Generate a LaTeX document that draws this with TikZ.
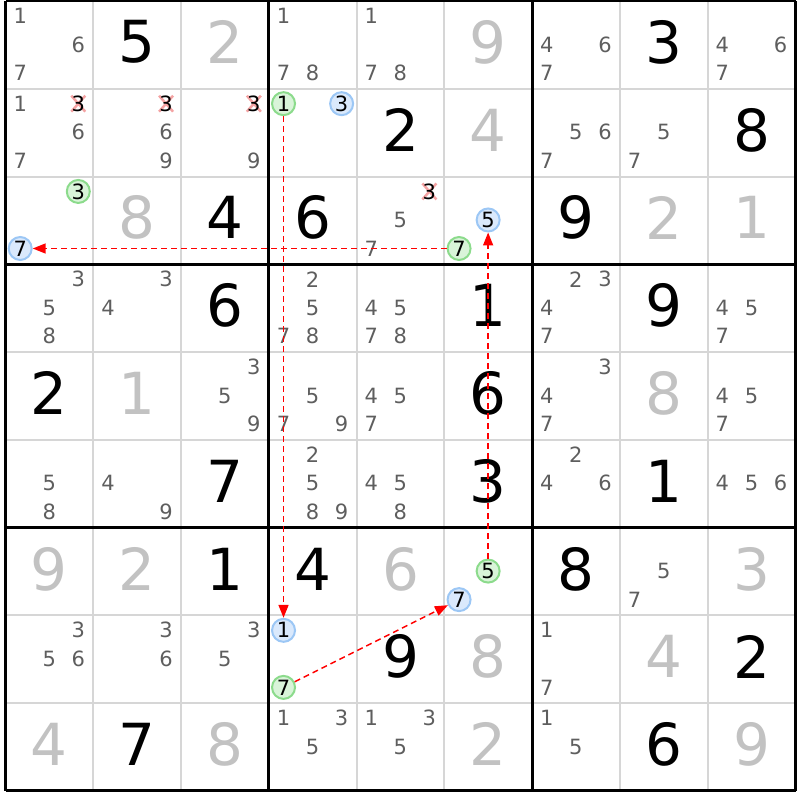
\documentclass[tikz,border=0pt]{standalone}
\usepackage{fontspec}
\setmainfont{DejaVu Sans}
\usetikzlibrary{arrows.meta}
\usepackage{xcolor}

\definecolor{givengray}{HTML}{C2C2C2}
\definecolor{candgray}{HTML}{5E5E5E}
\definecolor{gridgray}{HTML}{D6D6D6}
\definecolor{onfill}{HTML}{D9F4D9}
\definecolor{ondraw}{HTML}{8CDB8C}
\definecolor{offfill}{HTML}{DAE9FC}
\definecolor{offdraw}{HTML}{9CC7F5}
\definecolor{strikepink}{HTML}{F4A3A3}

\begin{document}
\begin{tikzpicture}[x=87.78pt, y=-87.78pt,
  thinline/.style={draw=gridgray, line width=2pt},
  boxline/.style={draw=black, line width=3pt},
  solved/.style={font=\fontsize{58}{58}\selectfont, inner sep=0pt, text=black},
  given/.style={solved, text=givengray},
  cand/.style={font=\fontsize{21}{21}\selectfont, inner sep=0pt, text=candgray},
  struck/.style={cand, text=black},
  strike/.style={draw=strikepink, line width=2.5pt},
  oncand/.style={circle, draw=ondraw, fill=onfill, line width=2pt, minimum size=23pt, inner sep=0pt, font=\fontsize{21}{21}\selectfont},
  offcand/.style={oncand, draw=offdraw, fill=offfill},
  link/.style={draw=red, line width=1.5pt, dash pattern=on 6pt off 4pt, -{Triangle[length=13pt,width=10pt]}}]

\useasboundingbox (-0.063,-0.011) rectangle (9.051,9.102);

% Grid
\foreach \i in {1,...,8} {
  \draw[thinline] (\i,0) -- (\i,9);
  \draw[thinline] (0,\i) -- (9,\i);
}
\foreach \i in {0,3,6,9} {
  \draw[boxline] (\i,0) -- (\i,9);
  \draw[boxline] (0,\i) -- (9,\i);
}

% Solved digits
\foreach \c/\r/\d in {2/1/5, 8/1/3, 5/2/2, 9/2/8, 3/3/4, 4/3/6, 7/3/9, 3/4/6, 6/4/1, 8/4/9, 1/5/2, 6/5/6,
  3/6/7, 6/6/3, 8/6/1, 3/7/1, 4/7/4, 7/7/8, 5/8/9, 9/8/2, 2/9/7, 8/9/6}
  \node[solved] (s\c\r) at (\c-0.5,\r-0.53) {\d};

% Given digits
\foreach \c/\r/\d in {3/1/2, 6/1/9, 6/2/4, 2/3/8, 8/3/2, 9/3/1, 2/5/1, 8/5/8, 1/7/9, 2/7/2, 5/7/6, 9/7/3,
  6/8/8, 8/8/4, 1/9/4, 3/9/8, 6/9/2, 9/9/9}
  \node[given] (s\c\r) at (\c-0.5,\r-0.53) {\d};

% Candidates
\foreach \c/\r/\ds in {1/1/{1,6,7}, 4/1/{1,7,8}, 5/1/{1,7,8}, 7/1/{4,6,7}, 9/1/{4,6,7},
  1/2/{1,6,7}, 2/2/{6,9}, 3/2/{9}, 7/2/{5,6,7}, 8/2/{5,7}, 5/3/{5,7},
  1/4/{3,5,8}, 2/4/{3,4}, 4/4/{2,5,7,8}, 5/4/{4,5,7,8}, 7/4/{2,3,4,7}, 9/4/{4,5,7},
  3/5/{3,5,9}, 4/5/{5,7,9}, 5/5/{4,5,7}, 7/5/{3,4,7}, 9/5/{4,5,7},
  1/6/{5,8}, 2/6/{4,9}, 4/6/{2,5,8,9}, 5/6/{4,5,8}, 7/6/{2,4,6}, 9/6/{4,5,6},
  8/7/{5,7}, 1/8/{3,5,6}, 2/8/{3,6}, 3/8/{3,5}, 7/8/{1,7},
  4/9/{1,3,5}, 5/9/{1,3,5}, 7/9/{1,5}} {
  \foreach \d in \ds {
    \pgfmathsetmacro{\kx}{mod(\d-1,3)}
    \pgfmathsetmacro{\ky}{floor((\d-1)/3)}
    \node[cand] (n\c\r\d) at (\c-0.833+0.331*\kx,\r-0.83+0.325*\ky) {\d};
  }
}

% Eliminated 3s
\foreach \c/\r in {1/2, 2/2, 3/2, 5/3} {
  \draw[strike] (\c-0.171,\r-0.83) +(-7pt,-8pt) -- +(7pt,8pt);
  \draw[strike] (\c-0.171,\r-0.83) +(-7pt,8pt) -- +(7pt,-8pt);
  \node[struck] (x\c\r) at (\c-0.171,\r-0.83) {3};
}

% Chain candidates
\node[oncand] (on1) at (3.167,1.17) {1};
\node[offcand] (off3) at (3.829,1.17) {3};
\node[oncand] (on3) at (0.829,2.17) {3};
\node[offcand] (off7a) at (0.167,2.82) {7};
\node[offcand] (off5) at (5.498,2.495) {5};
\node[oncand] (on7a) at (5.167,2.82) {7};
\node[oncand] (on5) at (5.498,6.495) {5};
\node[offcand] (off7b) at (5.167,6.82) {7};
\node[offcand] (off1) at (3.167,7.17) {1};
\node[oncand] (on7b) at (3.167,7.82) {7};

% Links
\draw[link] (on7a) -- (off7a);
\draw[link] (on1) -- (off1);
\draw[link] (on5) -- (off5);
\draw[link] (on7b) -- (off7b);
\end{tikzpicture}
\end{document}
